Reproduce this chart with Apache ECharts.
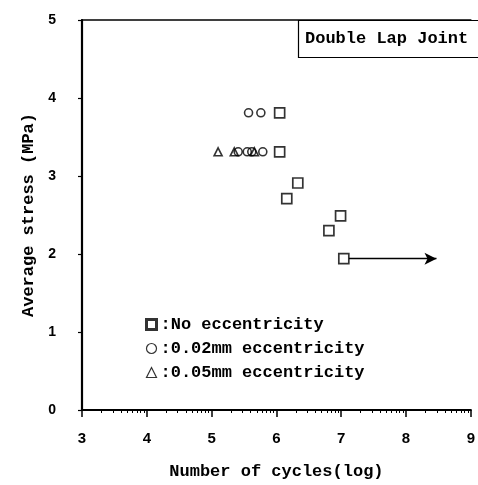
<!DOCTYPE html>
<html><head><meta charset="utf-8">
<script src="https://cdn.jsdelivr.net/npm/echarts@6/dist/echarts.min.js"></script>
<style>html,body{margin:0;padding:0;background:#fff}#c{width:478px;height:485px}</style>
</head><body><div id="c"></div>
<script>
// ---- data ----
var seriesNames = ['No eccentricity', '0.02mm eccentricity', '0.05mm eccentricity'];
var noEcc = [[6.05,3.81],[6.05,3.31],[6.33,2.91],[6.16,2.71],[6.99,2.49],[6.81,2.30],[7.04,1.94]];
var ecc002 = [[5.57,3.81],[5.76,3.81],[5.41,3.31],[5.55,3.31],[5.62,3.31],[5.79,3.31]];
var ecc005 = [[5.10,3.31],[5.35,3.31],[5.66,3.31]];
var arrowFrom = [7.12, 1.94];
var arrowTo = [8.47, 1.94];
var xTicks = [3,4,5,6,7,8,9];
var yTicks = [0,1,2,3,4,5];
var titleText = 'Double Lap Joint';
var xName = 'Number of cycles(log)';
var yName = 'Average stress (MPa)';

// log-style minor tick positions inside each decade
var minorTicks = [];
for (var d = 3; d < 9; d++) {
  for (var k = 2; k <= 9; k++) minorTicks.push(d + Math.log10(k));
}

var mono = '"Liberation Mono", "DejaVu Sans Mono", monospace';
var chart = echarts.init(document.getElementById('c'));
var hollow = {color: 'rgba(0,0,0,0)', borderColor: '#000', borderWidth: 1.7};
chart.setOption({
  animation: false,
  backgroundColor: '#fff',
  title: {
    text: titleText, left: 298, top: 20,
    borderColor: '#000', borderWidth: 1.2,
    padding: [10, 14, 11, 7],
    textStyle: {fontFamily: mono, fontWeight: 'bold', fontSize: 17, color: '#000'}
  },
  legend: {
    orient: 'vertical', left: 140, top: 311,
    itemWidth: 10, itemHeight: 10, itemGap: 7,
    formatter: function (n) { return ':' + n; },
    textStyle: {fontFamily: mono, fontWeight: 'bold', fontSize: 17, color: '#000', padding: [0,0,0,-1]},
    data: [
      {name: seriesNames[0], icon: 'rect', itemStyle: {color: '#fff', borderColor: '#000', borderWidth: 3}},
      {name: seriesNames[1], icon: 'circle', itemStyle: {color: '#fff', borderColor: '#000', borderWidth: 1.2}},
      {name: seriesNames[2], icon: 'triangle', itemStyle: {color: '#fff', borderColor: '#000', borderWidth: 1.2}}
    ]
  },
  grid: {left: 82, top: 20, width: 394, bottom: 68, containLabel: false},
  xAxis: [{
    type: 'value', min: 3, max: 9, interval: 1,
    name: xName, nameLocation: 'middle', nameGap: 53,
    nameTextStyle: {fontFamily: mono, fontWeight: 'bold', fontSize: 17, color: '#000'},
    axisLine: {show: true, lineStyle: {color: '#000', width: 2.2}},
    axisTick: {show: true, length: 7, lineStyle: {color: '#000', width: 1.5}},
    axisLabel: {margin: 21, color: '#000', fontFamily: '"Liberation Sans", Arial, sans-serif', fontWeight: 'bold', fontSize: 15,
      customValues: xTicks},
    splitLine: {show: false}
  }, {
    type: 'value', min: 3, max: 9, position: 'bottom',
    axisLine: {show: false},
    axisTick: {show: true, length: 3, lineStyle: {color: '#000', width: 1}, customValues: minorTicks},
    axisLabel: {show: false}, splitLine: {show: false}
  }, {
    type: 'value', min: 3, max: 9, position: 'top',
    axisLine: {show: true, lineStyle: {color: '#000', width: 1.6}},
    axisTick: {show: false}, axisLabel: {show: false}, splitLine: {show: false}
  }],
  yAxis: {
    type: 'value', min: 0, max: 5, interval: 1,
    name: yName, nameLocation: 'middle', nameGap: 44, nameRotate: 90,
    nameTextStyle: {fontFamily: mono, fontWeight: 'bold', fontSize: 17, color: '#000'},
    axisLine: {show: true, lineStyle: {color: '#000', width: 2.2}},
    axisTick: {show: true, length: 4, lineStyle: {color: '#000', width: 1.2}},
    axisLabel: {margin: 26, color: '#000', fontFamily: '"Liberation Sans", Arial, sans-serif', fontWeight: 'bold', fontSize: 14,
      customValues: yTicks},
    splitLine: {show: false}
  },
  series: [{
    name: seriesNames[0], type: 'scatter', symbol: 'rect', symbolSize: 10,
    itemStyle: hollow, data: noEcc,
    markLine: {
      silent: true, symbol: ['none', 'arrow'], symbolSize: [9, 12],
      label: {show: false},
      lineStyle: {color: '#000', width: 1.3, type: 'solid'},
      data: [[{coord: arrowFrom}, {coord: arrowTo}]]
    }
  }, {
    name: seriesNames[1], type: 'scatter', symbol: 'circle', symbolSize: 8,
    itemStyle: {color: 'rgba(0,0,0,0)', borderColor: '#000', borderWidth: 1.6}, data: ecc002
  }, {
    name: seriesNames[2], type: 'scatter', symbol: 'triangle', symbolSize: 8,
    itemStyle: {color: 'rgba(0,0,0,0)', borderColor: '#000', borderWidth: 1.6}, data: ecc005
  }]
});
</script></body></html>
